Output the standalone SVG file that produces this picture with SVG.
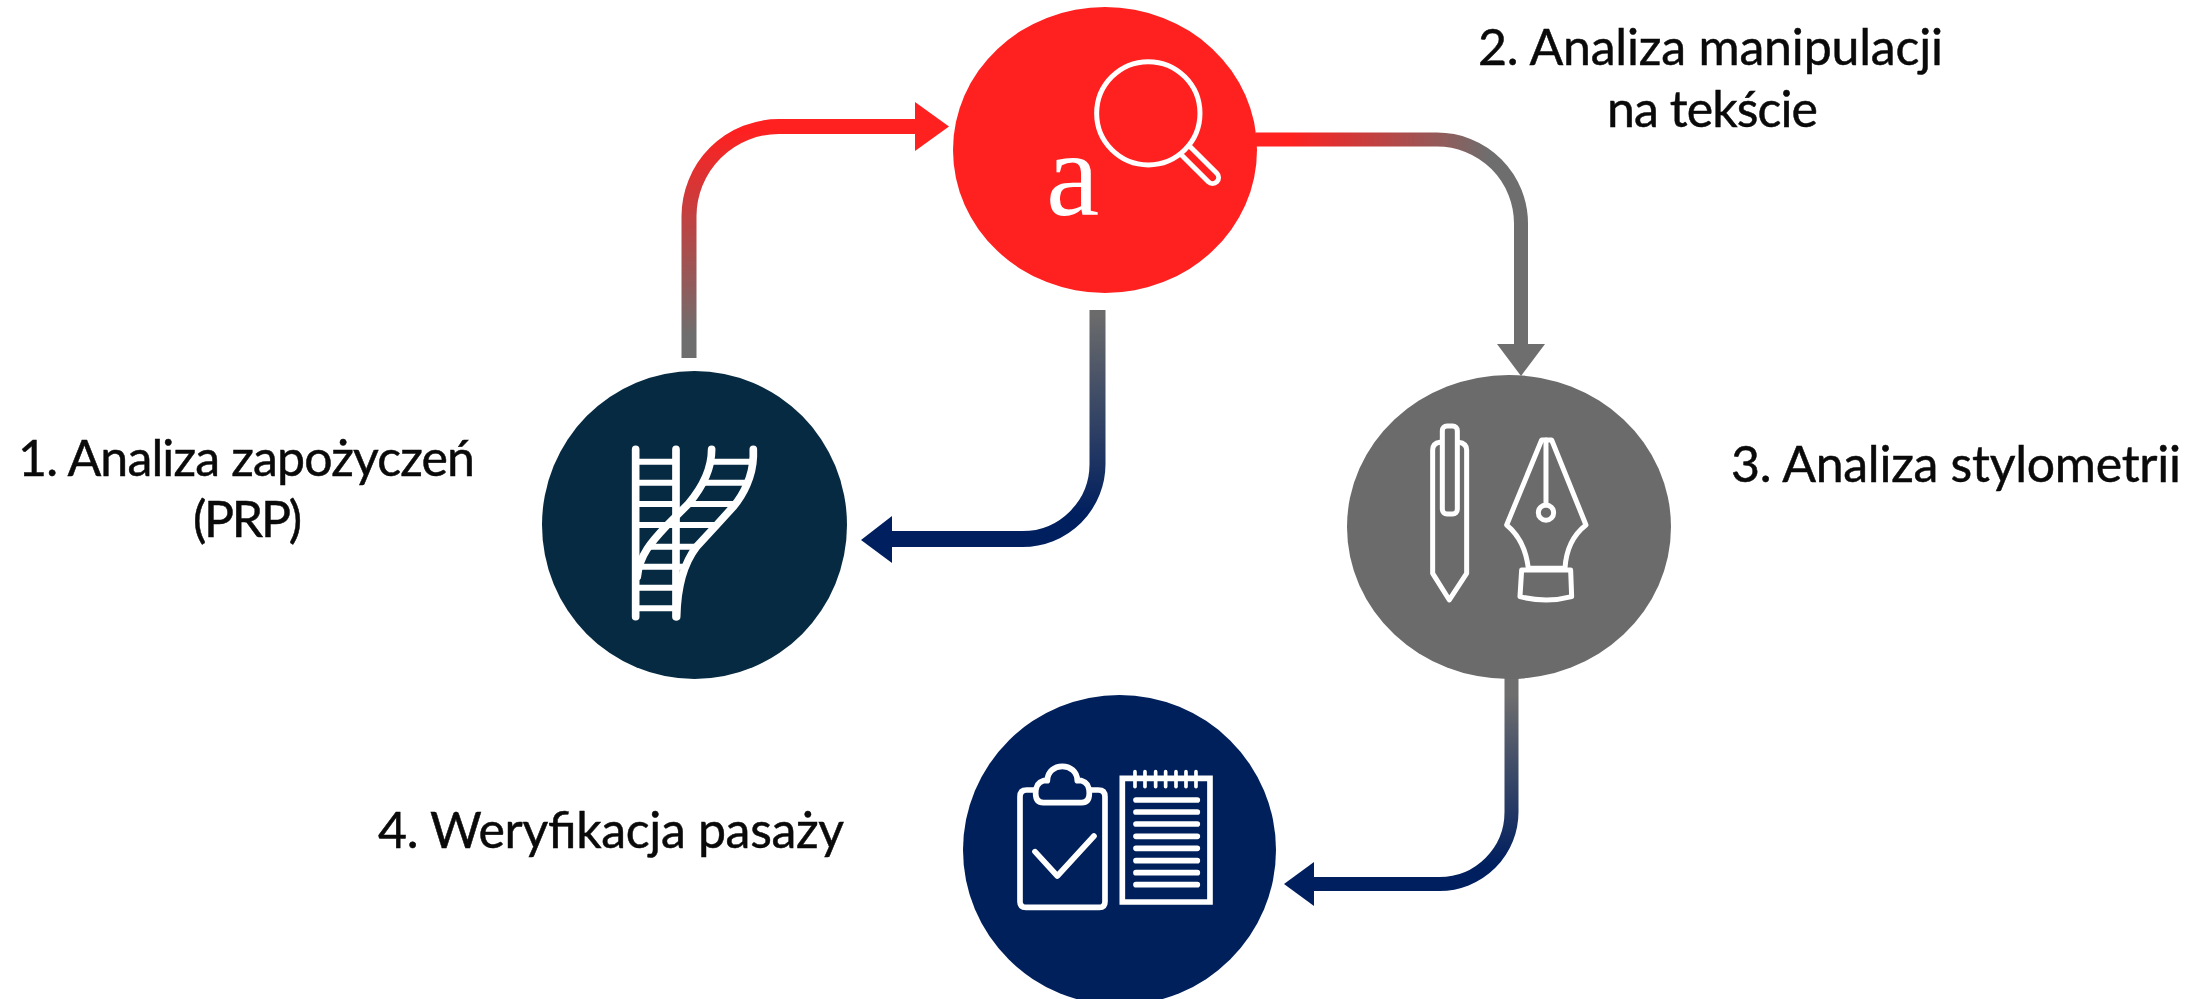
<svg xmlns="http://www.w3.org/2000/svg" width="2205" height="999" viewBox="0 0 2205 999">
<style>
.lbl{font-family:"Lato","Noto Sans",sans-serif;font-size:50px;fill:#0a0a0a;stroke:#0a0a0a;stroke-width:.5px}
.ic{fill:none;stroke:#fff;stroke-linecap:round;stroke-linejoin:round}
.cn{fill:none}
</style>
<defs>
<linearGradient id="g1" gradientUnits="userSpaceOnUse" x1="0" y1="335" x2="0" y2="130"><stop offset="0" stop-color="#6e6e6e"/><stop offset="1" stop-color="#ff2020"/></linearGradient>
<linearGradient id="g2" gradientUnits="userSpaceOnUse" x1="1290" y1="0" x2="1490" y2="0"><stop offset="0" stop-color="#ff2020"/><stop offset="1" stop-color="#6e6e6e"/></linearGradient>
<linearGradient id="g3" gradientUnits="userSpaceOnUse" x1="0" y1="315" x2="0" y2="515"><stop offset="0" stop-color="#6b6b6b"/><stop offset="1" stop-color="#001f5f"/></linearGradient>
<linearGradient id="g4" gradientUnits="userSpaceOnUse" x1="0" y1="695" x2="0" y2="865"><stop offset="0" stop-color="#6e6e6e"/><stop offset="1" stop-color="#001f5f"/></linearGradient>
</defs>
<rect width="2205" height="999" fill="#fff"/>
<g id="connectors">
<path class="cn" stroke="url(#g1)" stroke-width="15" d="M689 358V216A90 90 0 0 1 779 126.500H918"/>
<polygon fill="#ff2020" points="915,102 949,126.500 915,151"/>
<path class="cn" stroke="url(#g2)" stroke-width="14" d="M1256 139.500H1437A84 84 0 0 1 1521 223.500V346"/>
<polygon fill="#6e6e6e" points="1497,344 1545,344 1521,376"/>
<path class="cn" stroke="url(#g3)" stroke-width="16" d="M1097.500 310V464A75 75 0 0 1 1022.500 539H889"/>
<polygon fill="#001f5f" points="892,516 861,540 892,563"/>
<path class="cn" stroke="url(#g4)" stroke-width="14" d="M1511.500 678V812A72 72 0 0 1 1439.500 884H1311"/>
<polygon fill="#001f5f" points="1314,862 1284,884 1314,906"/>
</g>
<g id="node-1">
<ellipse cx="694.500" cy="525" rx="152.500" ry="154" fill="#062a41"/>
<g class="ic" transform="translate(520 360) scale(.3333)" stroke-width="23">
<path d="M347 268V770M468 268V770"/>
<path d="M575 268C575 330 545 385 505 432L440 497C395 545 358 585 352 650"/>
<path d="M700 268V290C698 350 670 405 640 440L590 495L530 560C495 605 472 670 470 770"/>
<path stroke-width="18" stroke-linecap="butt" d="M347 305H468M575 305H700M347 368H468M555 368H690M347 432H468M505 432H650M347 495H590M380 560H530M347 620H490M347 683H468M347 745H468"/>
</g>
<text class="lbl" x="18" y="476" textLength="457">1. Analiza zapożyczeń</text>
<text class="lbl" x="193" y="537" textLength="109">(PRP)</text>
</g>
<g id="node-2">
<ellipse cx="1105" cy="150" rx="152" ry="143" fill="#ff2020"/>
<g class="ic" transform="translate(940 0) scale(.3333)" stroke-width="15">
<circle cx="625" cy="340" r="155"/>
<path transform="translate(735 450) rotate(45)" d="M0 -18H117A18 18 0 0 1 117 18H0"/>
</g>
<text x="1046" y="215" font-family="'Liberation Serif',serif" font-size="120" fill="#fff">a</text>
<text class="lbl" x="1478" y="65" textLength="465">2. Analiza manipulacji</text>
<text class="lbl" x="1607" y="127" textLength="211">na tekście</text>
</g>
<g id="node-3">
<ellipse cx="1509" cy="527" rx="162" ry="152" fill="#6b6b6b"/>
<g class="ic" transform="translate(1340 370) scale(.3333)" stroke-width="15">
<path d="M300 217Q278 220 278 240V610L328 690L380 610V240Q380 220 355 217"/>
<rect x="307" y="168" width="45" height="264" rx="14"/>
<path d="M605 210H635L738 465Q680 510 675 595H565Q555 510 500 465Z"/>
<path d="M618 210V405"/>
<circle cx="618" cy="428" r="23"/>
<path d="M545 600H692L695 680Q620 700 540 680Z"/>
</g>
<text class="lbl" x="1731" y="482" textLength="450">3. Analiza stylometrii</text>
</g>
<g id="node-4">
<ellipse cx="1119.500" cy="850" rx="156.500" ry="155" fill="#00205b"/>
<g class="ic" transform="translate(960 690) scale(.3333)" stroke-width="17">
<path d="M225 300H200Q180 300 180 320V635Q180 652 198 652H418Q435 652 435 635V320Q435 300 415 300H390"/>
<path d="M262 272C262 215 352 215 352 272H365Q388 278 388 310Q388 338 365 338H250Q227 338 227 310Q227 278 250 272Z"/>
<path d="M225 485L292 558L402 438"/>
<path stroke-linecap="butt" stroke-linejoin="miter" d="M487 265H750V636H487Z"/>
<path stroke-width="11" d="M525 245V290M555 245V290M587 245V290M617 245V290M648 245V290M678 245V290M708 245V290"/>
<path d="M528 330H712M528 366H712M528 402H712M528 439H712M528 475H712M528 512H712M528 548H712M528 584H712"/>
</g>
<text class="lbl" x="378" y="848" textLength="466">4. Weryfikacja pasaży</text>
</g>
</svg>
